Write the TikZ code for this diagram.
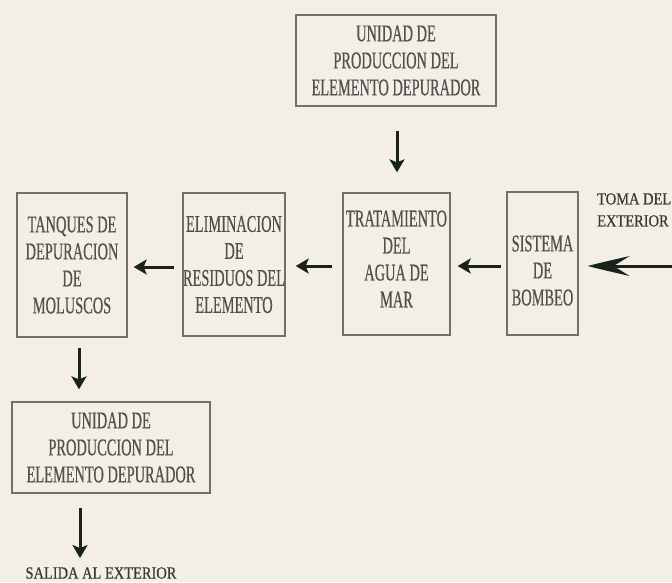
\documentclass[tikz,border=0pt]{standalone}
\usepackage{fontspec}
\setmainfont{Liberation Serif}
\newfontfamily\boxfont{Liberation Serif}[FakeStretch=0.6,FakeBold=0.4]
\newfontfamily\labfont{Liberation Serif}[FakeStretch=0.85,FakeBold=0.5]
\usetikzlibrary{arrows.meta}
\definecolor{bg}{HTML}{F3EFE4}
\definecolor{boxgray}{HTML}{707070}
\definecolor{txtgray}{HTML}{505050}
\definecolor{arrcol}{HTML}{1A221C}
\tikzset{
  blk/.style={draw=boxgray, line width=1.3pt, align=center, inner sep=0pt,
    text=txtgray, font=\boxfont\fontsize{24}{27}\selectfont},
  lab/.style={text=txtgray!70!black, inner sep=0pt, font=\labfont\fontsize{17}{22}\selectfont},
  arr/.style={line width=3pt, draw=arrcol, -{Stealth[length=13pt,width=15pt,inset=3pt]}},
  bigline/.style={line width=3pt, draw=arrcol},
  bighead/.style={fill=arrcol}
}
\begin{document}
\begin{tikzpicture}[x=1pt,y=-1pt]
\fill[bg] (0,0) rectangle (672,582);
\useasboundingbox (0,0) rectangle (672,582);

\node[blk, minimum width=200pt, minimum height=91pt] (unit1) at (396,60.5)
  {UNIDAD DE\\PRODUCCION DEL\\ELEMENTO DEPURADOR};
\node[blk, minimum width=110pt, minimum height=144pt] (tanq) at (72,265)
  {TANQUES DE\\DEPURACION\\DE\\MOLUSCOS};
\node[blk, minimum width=98pt, minimum height=143pt] (elim) at (234,264.5)
  {ELIMINACION\\DE\\RESIDUOS DEL\\ELEMENTO};
\node[blk, minimum width=107pt, minimum height=142pt] (trat) at (396.5,264)
  {TRATAMIENTO\\DEL\\AGUA DE\\MAR\rule[-10pt]{0pt}{0pt}};
\node[blk, minimum width=71pt, minimum height=143pt] (sist) at (542.5,263.5)
  {\rule{0pt}{30pt}SISTEMA\\DE\\BOMBEO};
\node[blk, minimum width=198pt, minimum height=91pt] (unit2) at (111,447.5)
  {UNIDAD DE\\PRODUCCION DEL\\ELEMENTO DEPURADOR};

\node[lab, anchor=north west, align=left] (toma) at (597,193) {TOMA DEL\\EXTERIOR};
\node[lab] (salida) at (101,573) {SALIDA AL EXTERIOR};
\coordinate (ext) at (672,266);
\path (sist.east |- ext) ++(9pt,0) coordinate (tip);

\draw[arr, shorten <=24pt, shorten >=20pt] ([xshift=1pt]unit1.south) -- ([xshift=1pt]trat.north -| unit1.south);
\draw[arr, shorten <=5pt, shorten >=7pt] (sist.west |- 0,266) -- (trat.east |- 0,266);
\draw[arr, shorten <=10pt, shorten >=10pt] (trat.west |- 0,266) -- (elim.east |- 0,266);
\draw[arr, shorten <=8pt, shorten >=6pt] (elim.west |- 0,267) -- (tanq.east |- 0,267);
\draw[bigline, shorten >=20pt] (ext) -- (tip);
\fill[bighead] (tip) .. controls +(16pt,-4pt) .. ++(42pt,-10pt)
   -- ++(-16pt,10pt) -- ++(16pt,10pt) .. controls +(-26pt,-6pt) .. (tip) -- cycle;
\draw[arr, shorten <=10pt, shorten >=12pt] ([xshift=7pt]tanq.south) -- ([xshift=7pt]tanq.south |- unit2.north);
\draw[arr, shorten <=14pt, shorten >=9pt] ([xshift=-31pt]unit2.south) -- ([xshift=-31pt]unit2.south |- salida.north);
\end{tikzpicture}
\end{document}
